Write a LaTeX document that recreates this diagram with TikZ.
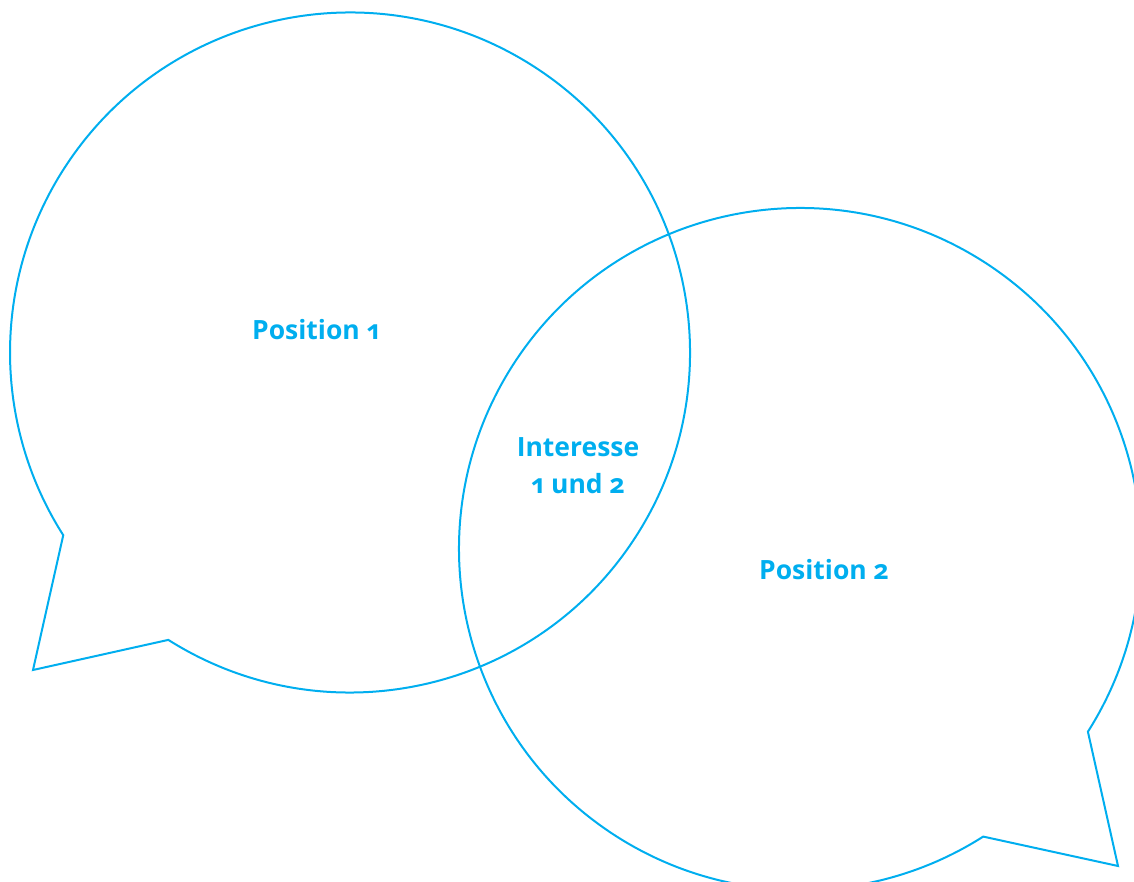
\documentclass[tikz,border=0pt]{standalone}
\usepackage{fontspec}
\setmainfont[Numbers=OldStyle]{Open Sans}
\definecolor{bub}{HTML}{00AEEF}
\begin{document}
\begin{tikzpicture}[x=1pt,y=1pt,
  bubble/.style={draw=bub,line width=2pt,line join=miter},
  lbl/.style={text=bub,font=\fontsize{26.5}{37}\selectfont\bfseries,align=center,inner sep=0pt}]
\useasboundingbox (0,0) rectangle (1134,881);
\coordinate (c1) at (350,528.5);
\coordinate (c2) at (800,332);
\coordinate (t1) at (33,211);
\coordinate (t2) at (1118,15);
\draw[bubble] (c1) ++(237.7:340) arc[start angle=237.7,end angle=572.5,radius=340] -- (t1) -- cycle;
\draw[bubble] (c2) ++(-32.4:341) arc[start angle=-32.4,end angle=302.5,radius=341] -- (t2) -- cycle;
\node[lbl] (p1) at (316,551) {Position 1};
\node[lbl] (i12) at (578,415.5) {Interesse\\1 und 2};
\node[lbl] (p2) at (824,311) {Position 2};
\end{tikzpicture}
\end{document}
